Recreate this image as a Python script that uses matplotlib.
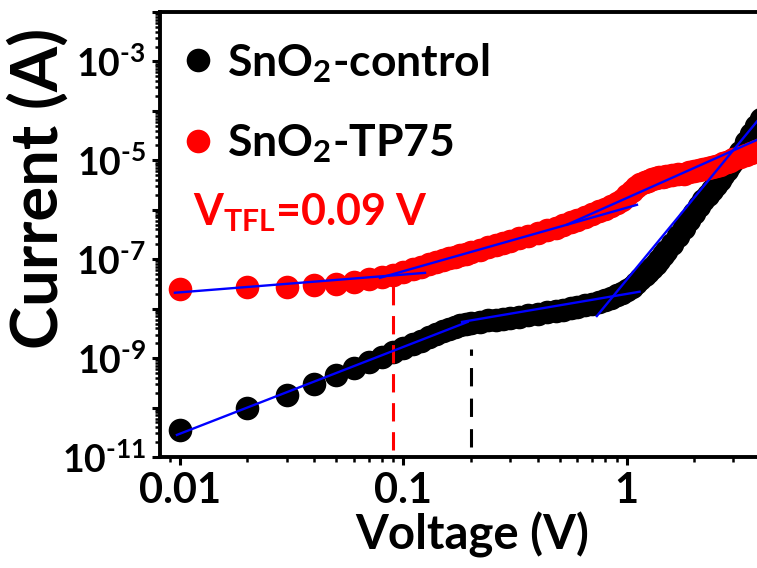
import matplotlib.pyplot as plt
from matplotlib.ticker import LogLocator, NullFormatter

plt.rcParams['font.family'] = 'Lato'
plt.rcParams['font.weight'] = 'bold'
plt.rcParams['mathtext.fontset'] = 'custom'
plt.rcParams['mathtext.rm'] = 'Lato:bold'
plt.rcParams['mathtext.it'] = 'Lato:bold'
plt.rcParams['mathtext.bf'] = 'Lato:bold'

# I-V sweep (V)
voltage = [0.01, 0.02, 0.03, 0.04, 0.05, 0.06, 0.07, 0.08, 0.09, 0.10,
           0.11, 0.12, 0.13, 0.14, 0.15, 0.16, 0.17, 0.18, 0.19, 0.20,
           0.22, 0.24, 0.26, 0.28, 0.30, 0.33, 0.36, 0.40, 0.44, 0.48,
           0.52, 0.56, 0.60, 0.65, 0.70, 0.75, 0.80, 0.85, 0.90, 0.95,
           1.00, 1.05, 1.10, 1.15, 1.20, 1.25, 1.30, 1.35, 1.40, 1.45,
           1.50, 1.60, 1.70, 1.80, 1.90, 2.00, 2.10, 2.20, 2.30, 2.40,
           2.50, 2.60, 2.70, 2.80, 2.90, 3.00, 3.20, 3.40, 3.60, 3.80,
           4.00]

# current (A)
i_control = [3.5e-11, 1.0e-10, 1.8e-10, 3.0e-10, 4.5e-10, 6.2e-10, 8.2e-10, 1.05e-9, 1.3e-9, 1.6e-9,
             1.9e-9, 2.25e-9, 2.65e-9, 3.1e-9, 3.5e-9, 3.9e-9, 4.3e-9, 4.6e-9, 4.9e-9, 5.2e-9,
             5.5e-9, 5.8e-9, 6.0e-9, 6.3e-9, 6.5e-9, 6.9e-9, 7.3e-9, 7.8e-9, 8.4e-9, 9.0e-9,
             9.6e-9, 1.02e-8, 1.08e-8, 1.16e-8, 1.25e-8, 1.37e-8, 1.5e-8, 1.65e-8, 1.85e-8, 2.1e-8,
             2.4e-8, 2.8e-8, 3.3e-8, 3.9e-8, 4.7e-8, 5.6e-8, 6.7e-8, 8.1e-8, 9.8e-8, 1.2e-7,
             1.45e-7, 2.05e-7, 2.9e-7, 4.2e-7, 6.1e-7, 8.7e-7, 1.2e-6, 1.6e-6, 2.0e-6, 2.5e-6,
             3.2e-6, 4.0e-6, 5.1e-6, 6.4e-6, 8.0e-6, 9.8e-6, 1.5e-5, 2.3e-5, 3.4e-5, 5.0e-5,
             7.0e-5]

i_tp75 = [2.5e-8, 2.7e-8, 2.8e-8, 3.0e-8, 3.2e-8, 3.5e-8, 3.9e-8, 4.3e-8, 4.8e-8, 5.5e-8,
          6.3e-8, 7.1e-8, 7.9e-8, 8.7e-8, 9.6e-8, 1.05e-7, 1.13e-7, 1.21e-7, 1.30e-7, 1.39e-7,
          1.57e-7, 1.75e-7, 1.95e-7, 2.15e-7, 2.33e-7, 2.64e-7, 2.95e-7, 3.4e-7, 3.85e-7, 4.35e-7,
          5.0e-7, 5.6e-7, 6.3e-7, 7.2e-7, 8.2e-7, 9.3e-7, 1.05e-6, 1.18e-6, 1.35e-6, 1.6e-6,
          1.95e-6, 2.4e-6, 2.9e-6, 3.3e-6, 3.6e-6, 3.9e-6, 4.1e-6, 4.3e-6, 4.5e-6, 4.6e-6,
          4.8e-6, 5.0e-6, 5.2e-6, 5.4e-6, 5.7e-6, 6.0e-6, 6.3e-6, 6.6e-6, 6.9e-6, 7.3e-6,
          7.7e-6, 8.2e-6, 8.7e-6, 9.2e-6, 9.8e-6, 1.04e-5, 1.15e-5, 1.3e-5, 1.43e-5, 1.56e-5,
          1.7e-5]

# linear fits on the log-log curves: ([V start, V end], [I start, I end])
fits_control = [([0.0097, 0.194], [2.8e-11, 5.4e-9]),
                ([0.183, 1.14], [5.4e-9, 2.2e-8]),
                ([0.734, 4.5], [7.1e-9, 1.5e-4])]
fits_tp75 = [([0.0095, 0.125], [2.1e-8, 5.3e-8]),
             ([0.0785, 1.11], [4.2e-8, 1.26e-6]),
             ([0.54, 4.5], [5.0e-7, 3.6e-5])]

# trap-filled limit markers
vtfl_tp75 = 0.09
vtfl_control = 0.2

fig = plt.figure(figsize=(7.57, 5.68), dpi=100)
ax = fig.add_axes([0.2114, 0.1954, 0.823, 0.7835])

ax.plot(voltage, i_control, 'o', color='black', ms=17, mec='none', label=r'SnO$_2$-control', zorder=2)
ax.plot(voltage, i_tp75, 'o', color='red', ms=17, mec='none', label=r'SnO$_2$-TP75', zorder=3)

ax.plot([vtfl_tp75, vtfl_tp75], [1.4e-11, 3.3e-8], color='red', lw=2.2, ls=(0, (6, 3.5)), zorder=4)
ax.plot([vtfl_control, vtfl_control], [1.6e-11, 1.5e-9], color='black', lw=2.2, ls=(0, (6, 4)), zorder=4)

for xs, ys in fits_control + fits_tp75:
    ax.plot(xs, ys, color='#0000ff', lw=1.7, zorder=5)

ax.set_xscale('log')
ax.set_yscale('log')
ax.set_xlim(0.00815, 5.0)
ax.set_ylim(1e-11, 1e-2)

ax.set_xticks([0.01, 0.1, 1], ['0.01', '0.1', '1'])
ax.xaxis.set_minor_locator(LogLocator(base=10, subs=range(2, 10), numticks=20))
ax.xaxis.set_minor_formatter(NullFormatter())

# decade labels on every other tick, hyphen as the sign
yexp = list(range(-11, -1))
ax.set_yticks([10.0 ** e for e in yexp],
              [r'$10^{\text{-}%d}$' % -e if e % 2 else '' for e in yexp])
ax.yaxis.set_minor_locator(LogLocator(base=10, subs=range(2, 10), numticks=20))
ax.yaxis.set_minor_formatter(NullFormatter())

ax.tick_params(which='major', direction='out', length=6, width=2.2, pad=4)
ax.tick_params(which='minor', direction='out', length=3.5, width=1.8)
ax.tick_params(axis='x', which='major', labelsize=30, pad=5)
ax.tick_params(axis='y', which='major', labelsize=27)
for s in ax.spines.values():
    s.set_linewidth(2.8)

fig.text(0.624, 0.032, 'Voltage (V)', fontsize=34, ha='center', va='baseline')
fig.text(0.05, 0.668, 'Current (A)', fontsize=47, ha='center', va='center', rotation=90)

ax.text(0.053, 0.522, r'V$_{\mathrm{TFL}}$=0.09 V', color='red', fontsize=31,
        transform=ax.transAxes, ha='left', va='baseline')

ax.legend(loc='upper left', bbox_to_anchor=(0.0, 0.97), frameon=False, fontsize=32,
          handletextpad=0.15, labelspacing=0.85, borderaxespad=0.0, handlelength=1.0,
          borderpad=0.35, markerscale=1.0)

fig.savefig('out.png', dpi=100)
